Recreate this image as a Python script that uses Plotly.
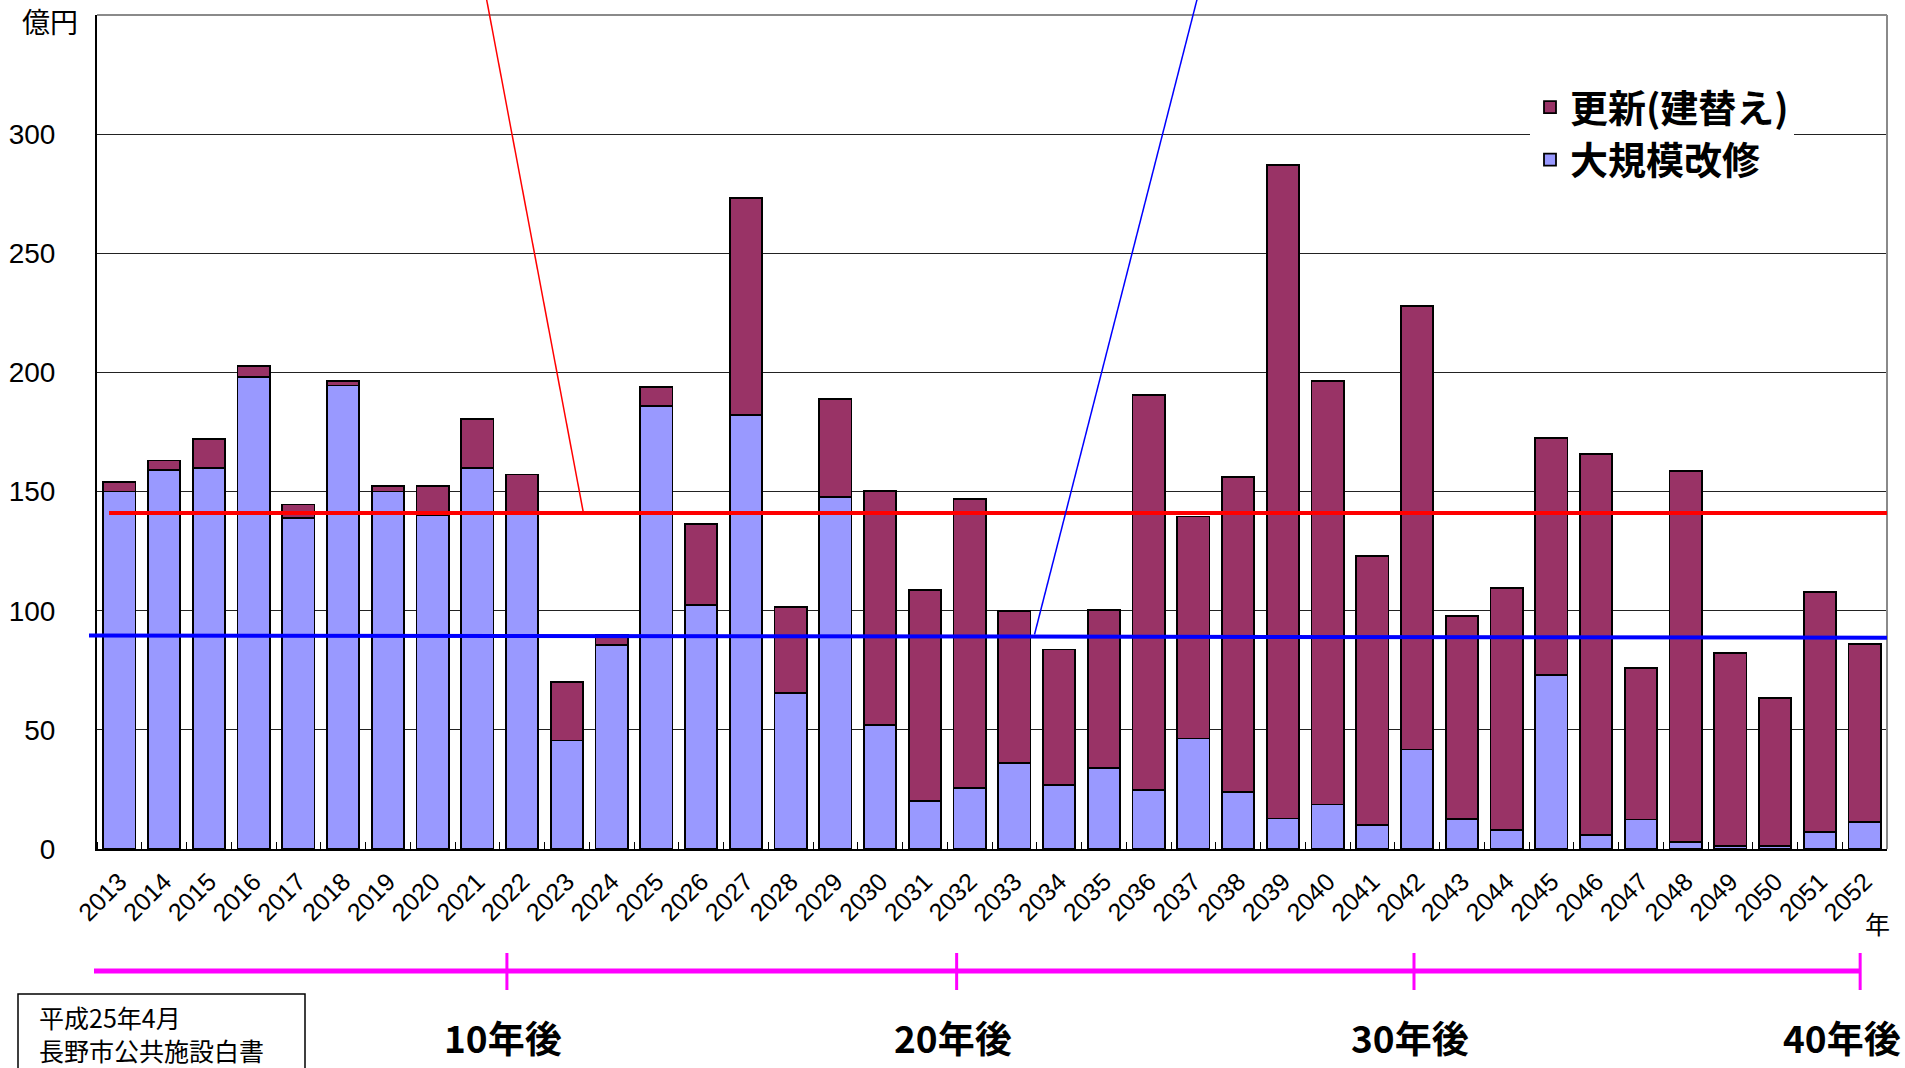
import plotly.graph_objects as go

# ---------------- data ----------------
years = list(range(2013, 2053))
year_labels = [str(y) for y in years]

# 大規模改修 (light blue, bottom segment), 億円
kaishu = [150, 159, 160, 198, 139, 194.5, 150, 140, 160, 141,
          45.5, 85.5, 186, 102.5, 182, 65.5, 147.6, 52, 20, 25.5,
          36, 27, 34, 24.7, 46.4, 24, 12.8, 18.7, 10, 41.8,
          12.6, 8, 73, 6, 12.4, 3, 1.2, 1.2, 7.3, 11.5]
# 更新（建替え） (maroon, top segment), 億円
koshin = [4, 4, 12, 4.6, 5.6, 2, 2.2, 12.4, 20.3, 16.2,
          24.6, 4.5, 8, 33.8, 91.3, 35.9, 41.2, 98.3, 88.7, 121.5,
          64, 56.7, 66.4, 165.7, 93.1, 132.1, 274.2, 177.8, 112.8, 186.2,
          85.2, 101.5, 99.6, 159.9, 63.6, 155.8, 80.9, 62.1, 100.7, 74.5]

avg_total = 141.0          # red average line
avg_kaishu = [89.6, 88.7]  # blue average line (left, right)
milestone_pos = [2021.66, 2031.71, 2041.93, 2051.9]
milestone_labels = ["10年後", "20年後", "30年後", "40年後"]
y_ticks = [0, 50, 100, 150, 200, 250, 300]

# ---------------- geometry helpers ----------------
W, H = 1905, 1068
L, R, T, B = 97, 18, 15, 219
PW, PH = W - L - R, H - T - B
XR = [years[0] - 0.5, years[-1] + 0.5]
YR = [0, 350]


def pxx(x):  # pixel x -> paper
    return (x - L) / PW


def pxy(y):  # pixel y -> paper
    return (H - B - y) / PH


def dx(v):  # data x -> paper
    return (v - XR[0]) / (XR[1] - XR[0])


def dy(v):  # data y -> paper
    return (v - YR[0]) / (YR[1] - YR[0])


JP = "Noto Sans CJK JP"
LAT = "Liberation Sans"
BLUE_FILL = "#9999FF"
MAROON = "#993366"

fig = go.Figure()
fig.add_trace(go.Bar(x=years, y=kaishu, name="大規模改修",
                     marker=dict(color=BLUE_FILL, line=dict(color="black", width=1.8)),
                     width=0.72))
fig.add_trace(go.Bar(x=years, y=koshin, name="更新(建替え)",
                     marker=dict(color=MAROON, line=dict(color="black", width=1.8)),
                     width=0.72))

shapes = []
# plot frame: top & right grey
shapes.append(dict(type="line", xref="paper", yref="paper", x0=0, x1=1, y0=1, y1=1,
                   line=dict(color="#8a8a8a", width=2)))
shapes.append(dict(type="line", xref="paper", yref="paper", x0=1, x1=1, y0=0, y1=1,
                   line=dict(color="#8a8a8a", width=2)))
# average lines
shapes.append(dict(type="line", xref="paper", yref="y", x0=dx(2012.77), x1=1,
                   y0=avg_total, y1=avg_total, line=dict(color="#FF0000", width=4)))
shapes.append(dict(type="line", xref="paper", yref="y", x0=pxx(89), x1=1,
                   y0=avg_kaishu[0], y1=avg_kaishu[1], line=dict(color="#0000FF", width=4)))
# leader lines going up to callouts outside the frame
shapes.append(dict(type="line", xref="paper", yref="paper", x0=dx(2021.2), y0=pxy(-2),
                   x1=dx(2023.37), y1=dy(avg_total), line=dict(color="#FF0000", width=1.5)))
shapes.append(dict(type="line", xref="paper", yref="paper", x0=dx(2037.09), y0=pxy(-2),
                   x1=dx(2033.45), y1=dy(90), line=dict(color="#0000FF", width=1.5)))
# magenta timeline
tl_y = pxy(971)
shapes.append(dict(type="line", xref="paper", yref="paper", x0=pxx(94), x1=dx(milestone_pos[-1]),
                   y0=tl_y, y1=tl_y, line=dict(color="#FF00FF", width=5)))
for mp in milestone_pos:
    shapes.append(dict(type="line", xref="paper", yref="paper", x0=dx(mp), x1=dx(mp),
                       y0=pxy(953), y1=pxy(990), line=dict(color="#FF00FF", width=3)))
# source box
shapes.append(dict(type="rect", xref="paper", yref="paper", x0=pxx(18), x1=pxx(305),
                   y0=pxy(1085), y1=pxy(994), line=dict(color="black", width=1.5),
                   fillcolor="white"))

annotations = []
annotations.append(dict(text="億円", xref="paper", yref="paper", x=pxx(50), y=pxy(21),
                        xanchor="center", yanchor="middle", showarrow=False,
                        font=dict(family=JP, size=28, color="black")))
annotations.append(dict(text="年", xref="paper", yref="paper", x=pxx(1877), y=pxy(923),
                        xanchor="center", yanchor="middle", showarrow=False,
                        font=dict(family=JP, size=25, color="black")))
for mp, lab in zip(milestone_pos, milestone_labels):
    xx = dx(mp) - 0.002
    anchor = "center"
    if mp == milestone_pos[-1]:
        xx = pxx(1903)
        anchor = "right"
    annotations.append(dict(text=lab, xref="paper", yref="paper", x=xx, y=pxy(1037),
                            xanchor=anchor, yanchor="middle", showarrow=False,
                            font=dict(family=JP, size=37, color="black", weight="bold")))
annotations.append(dict(text="平成25年4月<br>長野市公共施設白書", xref="paper", yref="paper",
                        x=pxx(37), y=pxy(997), xanchor="left", yanchor="top", align="left",
                        showarrow=False,
                        font=dict(family=JP, size=25, color="black")))

fig.update_layout(
    width=W, height=H,
    margin=dict(l=L, r=R, t=T, b=B, pad=0, autoexpand=False),
    paper_bgcolor="white", plot_bgcolor="white",
    barmode="stack",
    showlegend=True,
    legend=dict(x=pxx(1530), y=pxy(76), xanchor="left", yanchor="top",
                bgcolor="white", borderwidth=0, traceorder="reversed",
                font=dict(family=JP, size=38, color="black", weight="bold"),
                itemwidth=30, tracegroupgap=0),
    shapes=shapes,
    annotations=annotations,
    font=dict(family=JP, color="black"),
)
fig.update_xaxes(range=XR, tickmode="array", tickvals=years, ticktext=year_labels,
                 tickangle=-45, tickfont=dict(family=LAT, size=25, color="black"),
                 showline=True, linecolor="black", linewidth=2, ticks="",
                 showgrid=False, zeroline=False, ticklabelstandoff=6, automargin=False,
                 minor=dict(tickmode="linear", tick0=XR[0], dtick=1, ticks="inside",
                            ticklen=7, tickcolor="black", tickwidth=1))
fig.update_yaxes(range=YR, tickmode="array", tickvals=y_ticks,
                 tickfont=dict(family=LAT, size=28, color="black"),
                 showline=True, linecolor="black", linewidth=2, ticks="",
                 showgrid=True, gridcolor="#222222", gridwidth=1, zeroline=False,
                 ticklabelstandoff=34, automargin=False)

fig.write_html("out.html", config={"displayModeBar": False},
               post_script="document.body.style.margin='0';document.body.style.overflow='hidden';")
